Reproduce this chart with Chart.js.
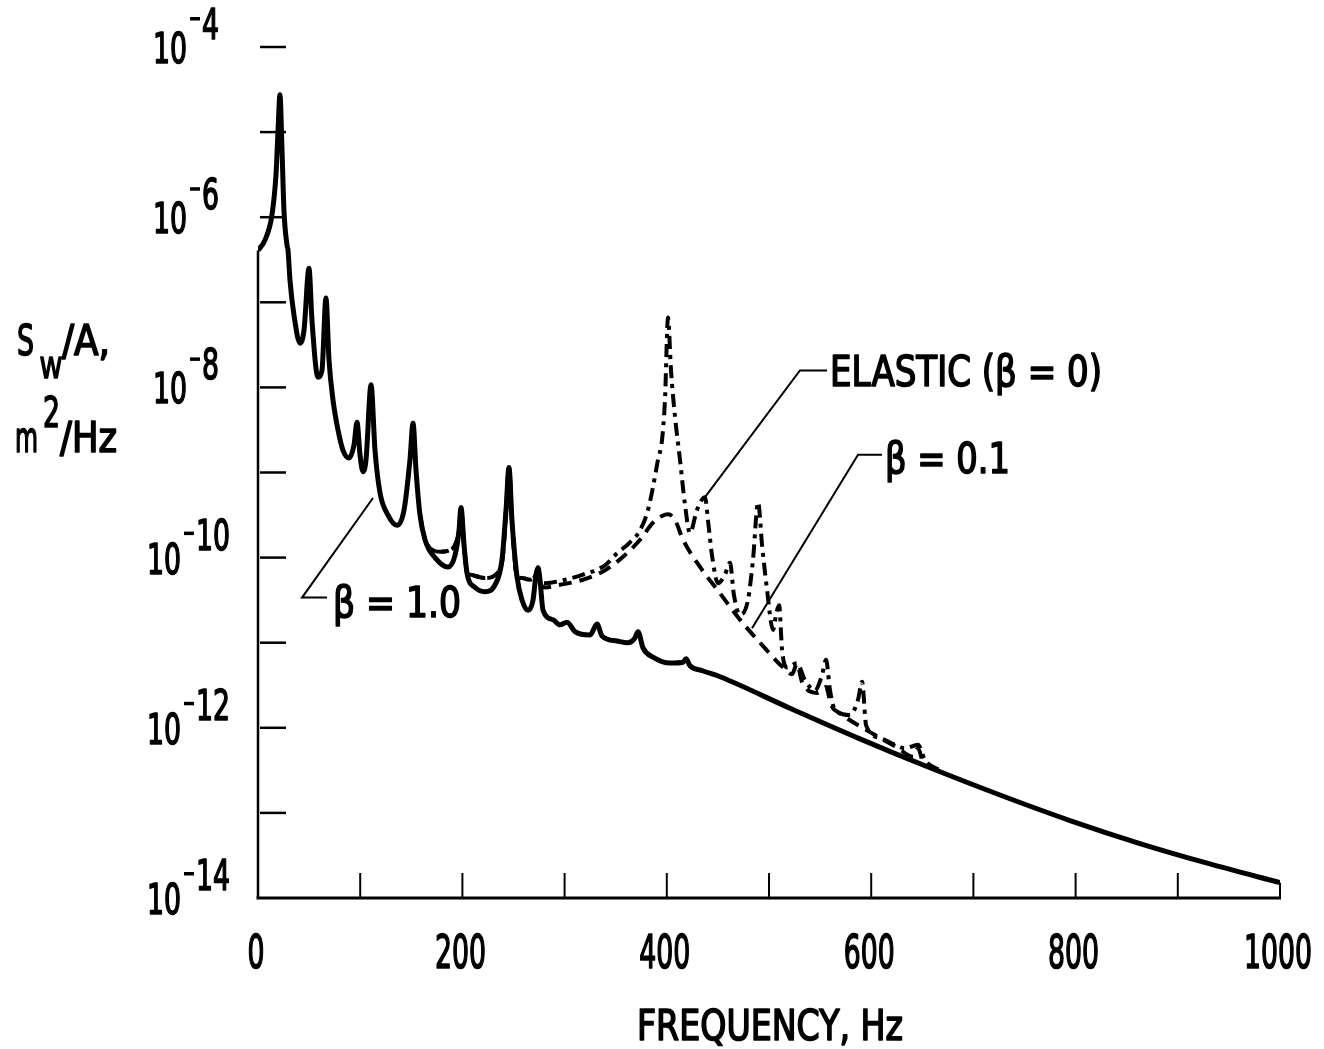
<!DOCTYPE html>
<html>
<head>
<meta charset="utf-8">
<script src="https://cdn.jsdelivr.net/npm/chart.js@4.4.1/dist/chart.umd.min.js"></script>
<style>
  html, body { margin: 0; padding: 0; background: #fff; }
  #wrap { width: 1324px; height: 1049px; }
</style>
</head>
<body>
<div id="wrap"><canvas id="psd" width="1324" height="1049"></canvas></div>
<script>
// Panel displacement spectral density S_w/A versus frequency.
// Values are stored as log10(S_w/A) in m^2/Hz, frequencies in Hz.

// beta = 1.0 (solid)
const freqBeta1 = [0, 6.8, 13.7, 17.6, 19.6, 21.5, 23.5, 25.4, 28.4, 29.4, 31.3, 35.2, 41.1, 45.0, 49.9, 52.8, 58.7, 62.6, 66.5, 69.5,
  73.4, 78.3, 83.2, 89.0, 93.9, 96.9, 99.8, 102.7, 105.7, 110.6, 114.5, 119.4, 127.2, 136.0, 142.9, 148.7, 151.7, 154.6, 158.5, 163.4,
  173.2, 185.9, 192.8, 196.7, 198.6, 201.6, 204.5, 212.3, 222.1, 231.9, 238.7, 242.7, 245.6, 248.5, 253.5, 258.4, 264.2, 269.1, 272.0, 274.0,
  275.9, 278.9, 288.7, 295.5, 302.4, 310.2, 324.9, 331.7, 336.6, 351.3, 362.0, 368.5, 371.8, 376.7, 386.5, 403.2, 415.9, 418.8, 422.7, 435.0,
  452.1, 520.5, 589.0, 657.5, 726.0, 794.5, 863.0, 931.5, 1000];
const logBeta1 = [-6.39, -6.27, -5.97, -5.50, -4.98, -4.56, -5.21, -5.92, -6.33, -6.39, -6.74, -7.15, -7.48, -7.33, -6.60, -7.21, -7.88, -7.80, -6.95, -7.68,
  -8.15, -8.50, -8.74, -8.83, -8.68, -8.41, -8.79, -8.99, -8.85, -7.97, -8.74, -9.24, -9.50, -9.62, -9.44, -8.85, -8.42, -8.97, -9.50, -9.79,
  -10.00, -10.11, -9.97, -9.68, -9.41, -9.85, -10.18, -10.35, -10.40, -10.32, -10.03, -9.44, -8.94, -9.56, -10.23, -10.50, -10.62, -10.50, -10.20, -10.12,
  -10.26, -10.62, -10.73, -10.79, -10.76, -10.87, -10.91, -10.78, -10.92, -10.98, -11.00, -10.95, -10.87, -11.06, -11.17, -11.24, -11.23, -11.19, -11.27, -11.33,
  -11.40, -11.77, -12.13, -12.47, -12.79, -13.09, -13.36, -13.60, -13.82];

// beta = 0.1 (dashed)
const freqBeta01 = [158.5, 163.4, 169.4, 178.2, 188.0, 192.8, 196.7, 198.6, 201.6, 204.5, 207.4, 222.1, 234.8, 239.7, 242.7, 245.6, 248.5, 253.5, 258.4, 266.1,
  272.0, 274.0, 276.9, 280.9, 295.5, 318.0, 339.5, 357.2, 373.8, 386.5, 395.3, 401.2, 408.1, 415.9, 432.5, 452.1, 471.6, 491.2, 513.7, 522.5,
  527.4, 532.3, 547.0, 555.8, 560.7, 569.5, 595.9, 625.2, 640.9, 645.8, 650.7, 660.5, 667.3];
const logBeta01 = [-9.50, -9.79, -9.90, -9.93, -9.91, -9.85, -9.68, -9.41, -9.85, -10.18, -10.20, -10.24, -10.17, -9.97, -9.44, -8.94, -9.56, -10.23, -10.24, -10.26,
  -10.20, -10.12, -10.32, -10.35, -10.32, -10.26, -10.15, -9.99, -9.79, -9.59, -9.51, -9.49, -9.56, -9.79, -10.11, -10.42, -10.73, -11.00, -11.29, -11.37,
  -11.25, -11.46, -11.59, -11.52, -11.73, -11.83, -12.03, -12.23, -12.34, -12.24, -12.40, -12.46, -12.51];

// elastic, beta = 0 (dash-dot)
const freqElastic = [158.5, 163.4, 169.4, 178.2, 188.0, 192.8, 196.7, 198.6, 201.6, 204.5, 207.4, 222.1, 234.8, 239.7, 242.7, 245.6, 248.5, 253.5, 258.4, 266.1,
  272.0, 274.0, 276.9, 280.9, 300.4, 318.0, 339.5, 351.3, 364.0, 373.8, 381.6, 386.5, 391.4, 395.3, 398.2, 401.2, 404.1, 408.1, 412.9, 417.8,
  422.7, 429.5, 437.4, 440.3, 444.2, 450.1, 456.9, 461.8, 465.7, 471.6, 479.4, 484.3, 489.3, 493.2, 498.1, 504.0, 506.9, 509.9, 512.8, 517.7,
  527.4, 535.2, 545.0, 551.9, 555.8, 559.7, 564.6, 579.3, 587.1, 591.1, 595.0, 608.6, 623.3, 633.1, 645.8, 652.6, 667.3, 672.2];
const logElastic = [-9.50, -9.79, -9.90, -9.93, -9.91, -9.85, -9.68, -9.41, -9.85, -10.18, -10.20, -10.24, -10.17, -9.97, -9.44, -8.94, -9.56, -10.23, -10.24, -10.26,
  -10.20, -10.12, -10.28, -10.30, -10.26, -10.20, -10.09, -9.95, -9.82, -9.68, -9.44, -9.17, -8.85, -8.62, -8.15, -7.18, -7.80, -8.35, -8.85, -9.38,
  -9.71, -9.44, -9.29, -9.56, -9.97, -10.30, -10.20, -10.06, -10.44, -10.67, -10.50, -10.03, -9.35, -9.85, -10.38, -10.85, -10.67, -10.56, -11.09, -11.29,
  -11.24, -11.44, -11.56, -11.38, -11.20, -11.56, -11.79, -11.85, -11.67, -11.46, -11.97, -12.12, -12.20, -12.24, -12.20, -12.38, -12.50, -12.54];

// axis ticks
const xTickValues = [0, 100, 200, 300, 400, 500, 600, 700, 800, 900, 1000];
const xTickLabels = ['0', '200', '400', '600', '800', '1000'];
const xLabelValues = [0, 200, 400, 600, 800, 1000];
const yTickExps = [-4, -5, -6, -7, -8, -9, -10, -11, -12, -13];
const yLabelExps = [-4, -6, -8, -10, -12, -14];

// curve labels: text, leader path (Hz, log10 value), text anchor (Hz, log10 baseline)
const curveLabels = [
  { text: 'ELASTIC (\u03B2 = 0)', path: [[437.4, -9.29], [530.3, -7.80], [556.8, -7.80]], at: [559.7, -7.98], width: 272 },
  { text: '\u03B2 = 0.1', path: [[483.4, -10.83], [587.1, -8.79], [610.6, -8.79]], at: [613.5, -9.01], width: 125 },
  { text: '\u03B2 = 1.0', path: [[112.5, -9.30], [43.1, -10.47], [67.5, -10.47]], at: [73.4, -10.70], width: 128 }
];

const FAMILY = "'Liberation Sans Narrow', 'DejaVu Sans Condensed', 'Liberation Sans', sans-serif";

function toPoints(fs, ls) {
  return fs.map((f, i) => ({ x: f, y: Math.pow(10, ls[i]) }));
}

// draw a string squeezed horizontally to a given width
function fitText(ctx, str, x, yBase, size, width, align) {
  ctx.save();
  ctx.font = size + 'px ' + FAMILY;
  const w = ctx.measureText(str).width;
  const sx = width / w;
  let left = x;
  if (align === 'center') left = x - width / 2;
  else if (align === 'right') left = x - width;
  ctx.translate(left, yBase);
  ctx.scale(sx, 1);
  ctx.textAlign = 'left';
  ctx.textBaseline = 'alphabetic';
  ctx.fillText(str, 0, 0);
  ctx.lineWidth = 1.6;
  ctx.lineJoin = 'round';
  ctx.strokeText(str, 0, 0);
  ctx.restore();
}

function seg(ctx, pts) {
  ctx.beginPath();
  ctx.moveTo(pts[0][0], pts[0][1]);
  for (let i = 1; i < pts.length; i++) ctx.lineTo(pts[i][0], pts[i][1]);
  ctx.stroke();
}

const paperAxes = {
  id: 'paperAxes',
  afterDatasetsDraw(chart) {
    const ctx = chart.ctx;
    const xs = chart.scales.x, ys = chart.scales.y;
    const X = v => xs.getPixelForValue(v);
    const Y = e => ys.getPixelForValue(Math.pow(10, e));
    ctx.save();
    ctx.strokeStyle = '#000';
    ctx.fillStyle = '#000';
    ctx.lineCap = 'butt';

    const x0 = X(0), x1 = X(1000), yb = Y(-14);
    // vertical axis starts where the spectrum begins
    ctx.lineWidth = 2.5;
    seg(ctx, [[x0, Y(logBeta1[0])], [x0, yb]]);
    // horizontal axis and closing edge at 1000 Hz
    ctx.lineWidth = 3;
    seg(ctx, [[x0 - 1.5, yb], [x1 + 1, yb]]);
    ctx.lineWidth = 2;
    seg(ctx, [[x1, yb], [x1, Y(logBeta1[logBeta1.length - 1])]]);

    // inward tick marks
    ctx.lineWidth = 2.5;
    yTickExps.forEach(e => { const py = Y(e); seg(ctx, [[x0 + 2, py], [x0 + 28, py]]); });
    ctx.lineWidth = 2;
    xTickValues.slice(1, -1).forEach(v => { const px = X(v); seg(ctx, [[px, yb], [px, yb - 25]]); });

    // x tick labels
    xLabelValues.forEach((v, i) => {
      const s = xTickLabels[i];
      fitText(ctx, s, X(v) - 2, yb + 70, 47, 17 * s.length, 'center');
    });

    // y tick labels: 10 with raised exponent
    yLabelExps.forEach(e => {
      const py = Y(e);
      const digits = String(-e);
      const baseRight = digits.length > 1 ? 181 : 187;
      fitText(ctx, '10', baseRight, py + 16, 43, 34, 'right');
      const mx = baseRight + 3;
      ctx.fillRect(mx, py - (digits.length > 1 ? 26 : 30), 10, 3.5);
      fitText(ctx, digits, mx + 12, py - 8, 43, 17 * digits.length, 'left');
    });

    // axis titles
    fitText(ctx, 'FREQUENCY, Hz', 637, 1040, 42, 266, 'left');
    fitText(ctx, 'S', 17, 355, 42, 17, 'left');
    fitText(ctx, 'W', 40, 378, 28, 22, 'left');
    fitText(ctx, '/A,', 62, 355, 42, 48, 'left');
    fitText(ctx, 'm', 15, 452, 42, 23, 'left');
    fitText(ctx, '2', 43, 427, 42, 17, 'left');
    fitText(ctx, '/Hz', 60, 452, 42, 57, 'left');

    // curve labels with leader lines
    ctx.lineWidth = 2;
    curveLabels.forEach(c => {
      seg(ctx, c.path.map(p => [X(p[0]), Y(p[1])]));
      fitText(ctx, c.text, X(c.at[0]), Y(c.at[1]), 42, c.width, 'left');
    });
    ctx.restore();
  }
};

new Chart(document.getElementById('psd'), {
  type: 'line',
  data: {
    datasets: [
      { label: '\u03B2 = 1.0', data: toPoints(freqBeta1, logBeta1), borderColor: '#000', borderWidth: 5, order: 0 },
      { label: '\u03B2 = 0.1', data: toPoints(freqBeta01, logBeta01), borderColor: '#000', borderWidth: 4, borderDash: [13, 8], order: 1 },
      { label: 'ELASTIC (\u03B2 = 0)', data: toPoints(freqElastic, logElastic), borderColor: '#000', borderWidth: 4, borderDash: [13, 6, 4, 6], order: 2 }
    ]
  },
  options: {
    responsive: false,
    animation: false,
    layout: { padding: { left: 258, right: 44, top: 47, bottom: 151 } },
    elements: {
      point: { radius: 0, hoverRadius: 0 },
      line: { cubicInterpolationMode: 'monotone', fill: false, borderCapStyle: 'butt', borderJoinStyle: 'round' }
    },
    scales: {
      x: { type: 'linear', min: 0, max: 1000, display: false },
      y: { type: 'logarithmic', min: 1e-14, max: 1e-4, display: false }
    },
    plugins: { legend: { display: false }, tooltip: { enabled: false } },
    events: []
  },
  plugins: [paperAxes]
});
</script>
</body>
</html>
